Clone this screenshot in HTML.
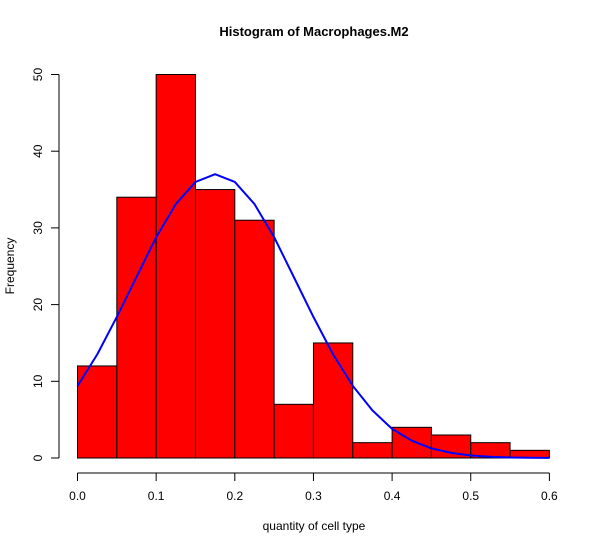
<!DOCTYPE html>
<html><head><meta charset="utf-8"><style>
html,body{margin:0;padding:0;background:#fff;}
svg{display:block;font-family:"Liberation Sans",Arial,sans-serif;}
</style></head><body>
<svg id="chart" width="600" height="547" viewBox="0 0 600 547">
<rect width="600" height="547" fill="#fff"/>
<text x="314" y="36" text-anchor="middle" font-size="13" font-weight="bold">Histogram of Macrophages.M2</text>
<text x="314" y="530" text-anchor="middle" font-size="12">quantity of cell type</text>
<text x="14" y="266" text-anchor="middle" font-size="12" transform="rotate(-90 14 266)">Frequency</text>
<g id="bars"></g>
<g id="xaxis"></g>
<g id="yaxis"></g>
<path id="curve" fill="none" stroke="#0000ff" stroke-width="2" stroke-linejoin="round"/>
</svg>
<script>
const binEdges = [0,0.05,0.1,0.15,0.2,0.25,0.3,0.35,0.4,0.45,0.5,0.55,0.6];
const counts = [12,34,50,35,31,7,15,2,4,3,2,1];
const xTicks = [0,0.1,0.2,0.3,0.4,0.5,0.6];
const xTickLabels = ["0.0","0.1","0.2","0.3","0.4","0.5","0.6"];
const yTicks = [0,10,20,30,40,50];
const curveX = [0,0.025,0.05,0.075,0.1,0.125,0.15,0.175,0.2,0.225,0.25,0.275,0.3,0.325,0.35,0.375,0.4,0.425,0.45,0.475,0.5,0.525,0.55,0.575,0.6];
const curveY = [9.4,13.5,18.4,23.6,28.8,33.1,36.0,37.0,36.0,33.1,28.8,23.6,18.4,13.5,9.4,6.2,3.8,2.25,1.25,0.66,0.33,0.15,0.06,0.02,0.01];

const NS="http://www.w3.org/2000/svg";
const xs=v=>77.5+v*786.5;
const ys=v=>458-v*7.67;
function mk(tag,attrs,parent){const e=document.createElementNS(NS,tag);for(const k in attrs)e.setAttribute(k,attrs[k]);parent.appendChild(e);return e;}
const bars=document.getElementById('bars');
counts.forEach((c,i)=>{
  const x0=xs(binEdges[i]),x1=xs(binEdges[i+1]);
  const r=mk('rect',{x:x0,y:ys(c),width:x1-x0,height:ys(0)-ys(c),fill:'#ff0000',stroke:'#000','stroke-width':1},bars);
  
  
});
const xa=document.getElementById('xaxis');
mk('line',{x1:xs(xTicks[0]),x2:xs(xTicks[xTicks.length-1]),y1:473,y2:473,stroke:'#000'},xa);
xTicks.forEach((t,i)=>{
  mk('line',{x1:xs(t),x2:xs(t),y1:473,y2:481,stroke:'#000'},xa);
  const tx=mk('text',{x:xs(t),y:500,'text-anchor':'middle','font-size':12},xa);
  tx.textContent=xTickLabels[i];
  
  
});
const ya=document.getElementById('yaxis');
mk('line',{x1:59,x2:59,y1:ys(yTicks[0]),y2:ys(yTicks[yTicks.length-1]),stroke:'#000'},ya);
yTicks.forEach(t=>{
  mk('line',{x1:51,x2:59,y1:ys(t),y2:ys(t),stroke:'#000'},ya);
  const tx=mk('text',{x:42,y:ys(t),'text-anchor':'middle','font-size':12,transform:`rotate(-90 42 ${ys(t)})`},ya);
  tx.textContent=String(t);
  
  
});
let d='';
curveX.forEach((x,i)=>{d+=(i?'L':'M')+xs(x).toFixed(1)+' '+ys(curveY[i]).toFixed(1);});
document.getElementById('curve').setAttribute('d',d);
</script>
</body></html>
